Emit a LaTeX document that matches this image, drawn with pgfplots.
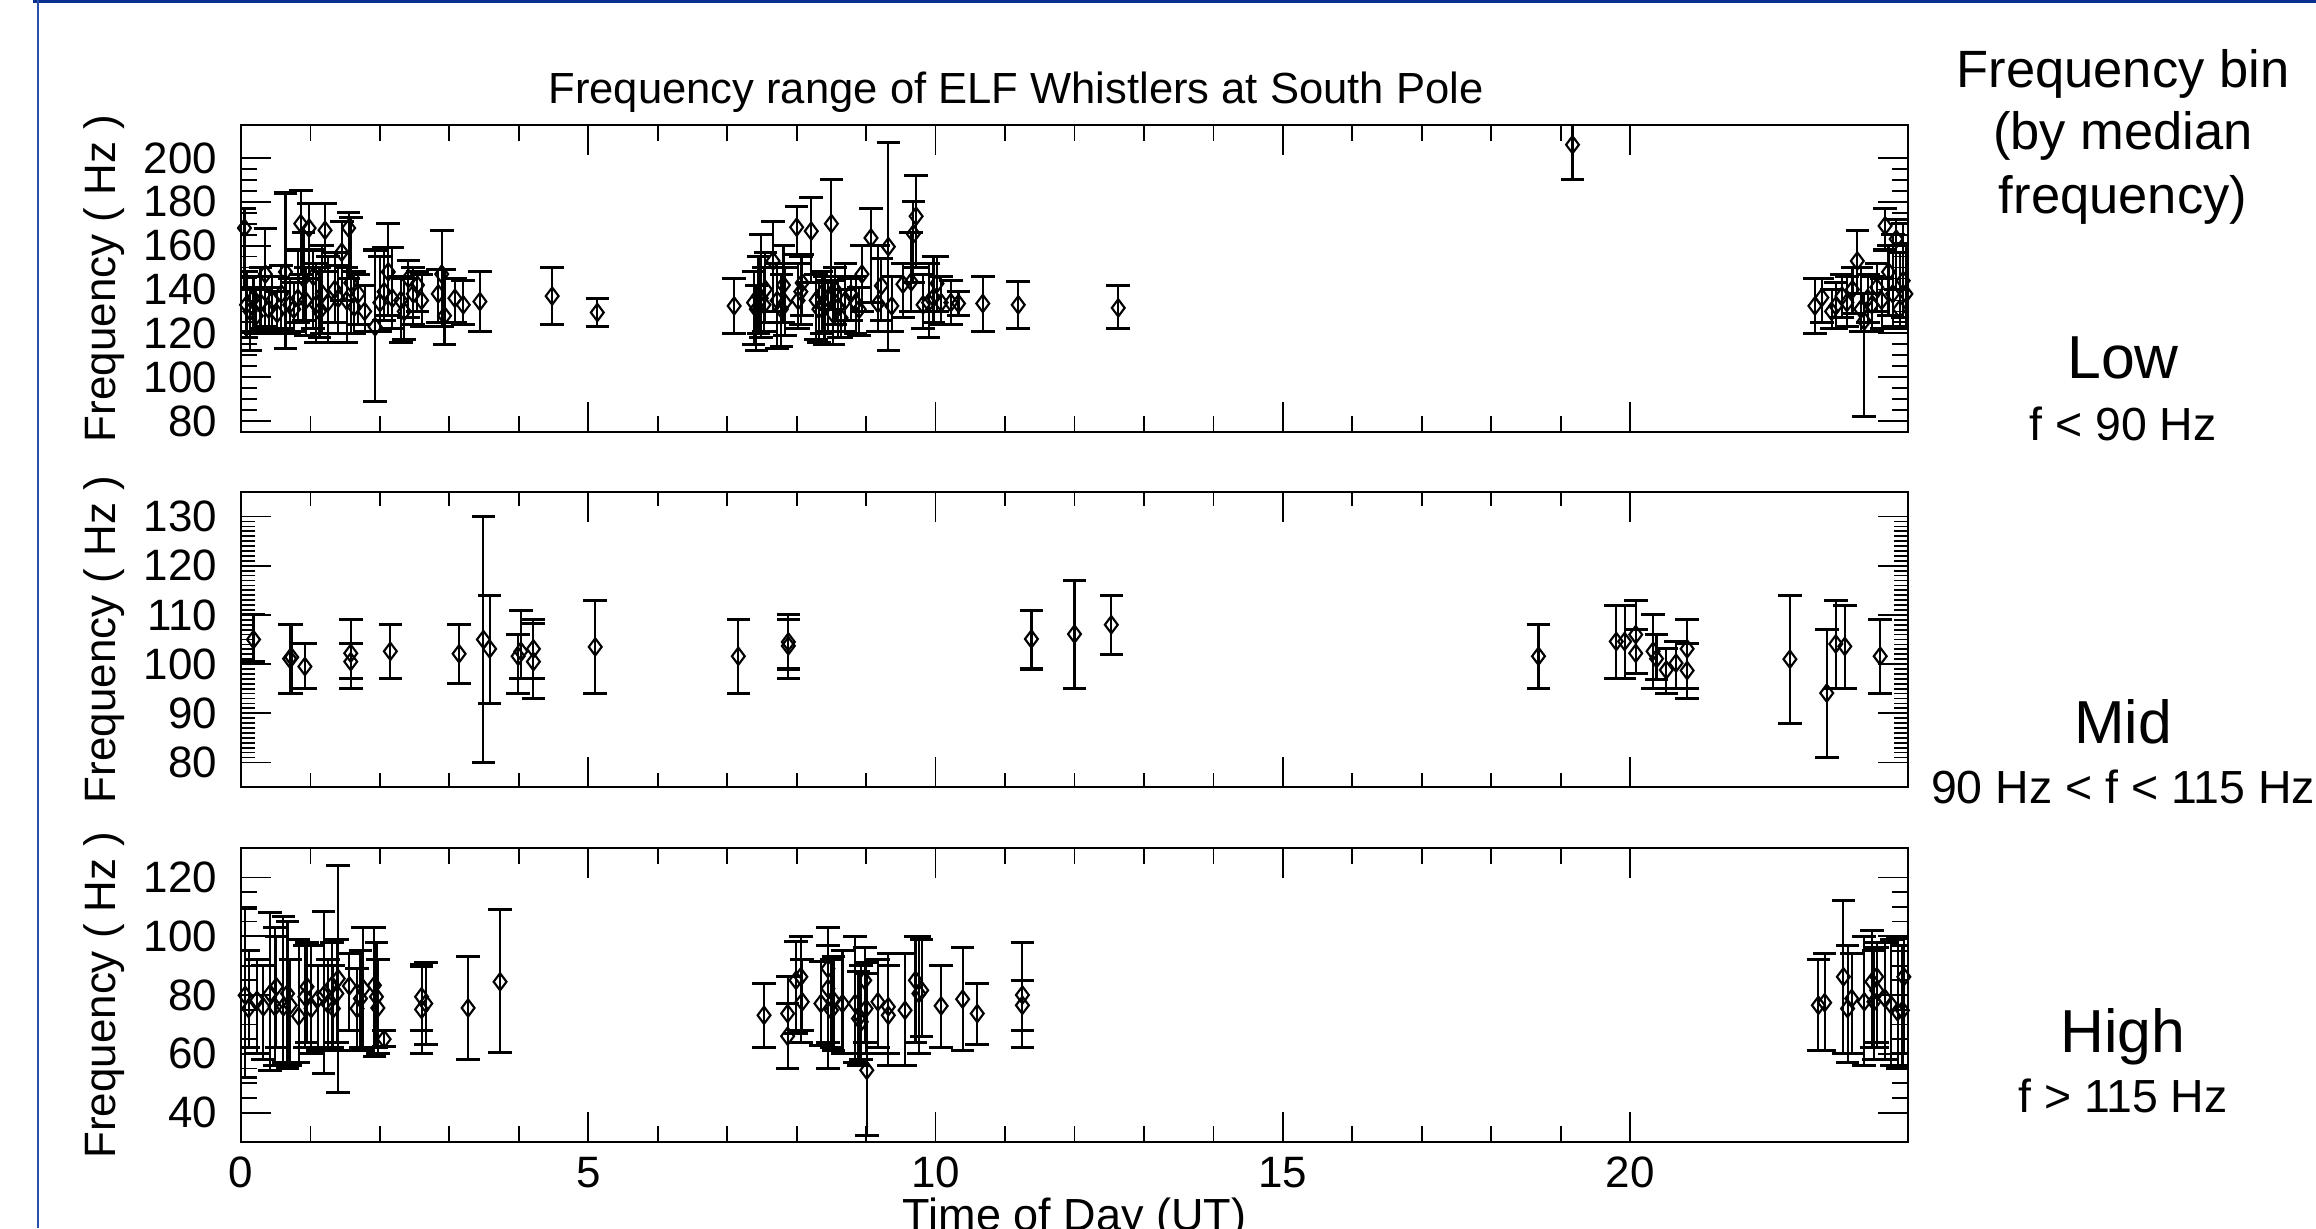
\documentclass[border=0pt]{standalone}
\usepackage{fontspec}
\setmainfont{Liberation Sans}
\usepackage{pgfplots}
\usepackage{pgfplotstable}
\pgfplotsset{compat=1.18}
\definecolor{framenavy}{RGB}{8,48,140}
\definecolor{frameblue}{RGB}{40,80,170}

% ---------- Panel 1 ----------
\pgfplotstableread{
x y lo hi
0.05 168 140 177
0.08 133 118 148
0.13 130 112 141
0.18 136 121 146
0.22 128 120 140
0.28 134 122 150
0.35 147 123 168
0.40 131 121 141
0.45 135 120 146
0.52 129 121 139
0.58 138 122 151
0.64 148 113 184
0.70 133 120 145
0.76 131 121 143
0.82 136 125 158
0.86 170 147 185
0.90 145 126 166
0.93 135 119 150
0.98 168 145 179
1.04 146 122 158
1.08 133 116 152
1.13 130 118 150
1.17 138 120 160
1.21 167 148 179
1.25 134 116 155
1.35 140 125 157
1.40 136 120 151
1.45 157 135 171
1.52 135 116 150
1.55 168 145 175
1.58 143 120 173
1.63 132 120 148
1.69 138 124 147
1.78 130 121 142
1.93 123 89 158
2.00 134 121 155
2.06 139 126 159
2.12 148 128 170
2.18 136 122 159
2.30 135 116 146
2.35 130 117 145
2.41 145 127 153
2.48 138 124 150
2.54 142 130 148
2.60 135 123 147
2.84 138 125 149
2.89 147 123 167
2.93 128 115 149
3.08 136 125 145
3.20 133 124 144
3.44 134.5 121 148
4.48 137 124 150
5.13 129.5 123 136
7.10 132.5 120 145
7.38 134 115 148
7.42 131 112 142
7.45 137 120 155
7.49 136 118 165
7.53 133 121 150
7.55 140 125 157
7.66 153 130 171
7.72 135 113 152
7.78 131 114 147
7.81 142 125 160
7.83 134 119 150
8.00 168.4 156 178
8.02 135 122 152
8.06 139 124 155
8.08 143 128 156
8.21 166.6 143 182
8.28 135 117 147
8.32 131 116 143
8.36 138 120 148
8.40 133 115 146
8.45 136 121 144
8.50 170 131 190
8.52 129 115 144
8.55 140 124 150
8.60 132 118 146
8.64 127 118 140
8.70 135 121 152
8.78 138 126 145
8.85 134 120 146
8.90 131 119 141
8.94 147 130 160
9.07 163.5 134 177
9.17 133.6 121 160
9.22 141.7 126 154
9.32 159.5 112 207
9.37 132.5 121 146
9.53 142.4 127 152
9.65 143.5 130 166
9.68 165.3 143 180
9.72 173.4 150 192
9.82 133 122 147
9.90 134 118 152
9.97 136.3 125 155
10.02 142.7 130 155
10.08 134 124 146
10.22 134 124 144
10.33 133.6 128 139
10.68 133.6 121 146
11.19 133 122 143.7
12.63 131.6 122 141.7
19.17 206 190 217
22.66 132.5 120 145
22.76 136.3 125 145
22.90 130 122 140
22.96 132.5 122 143
23.05 137 127 147
23.12 134 123 146
23.20 140 129 150
23.27 153 138 167
23.32 131 121 150
23.37 125.6 82 138
23.42 136 125 147
23.48 133 121 146
23.55 141 130 152
23.62 135 122 145
23.67 169 158 177
23.72 148 128 160
23.78 138 123 165
23.83 163 140 172
23.88 131 122 157
23.93 144 127 170
23.97 138 123 161
}\lowdata

% ---------- Panel 2 ----------
\pgfplotstableread{
x y lo hi
0.18 105 100.5 110
0.70 101.1 94.1 108
0.73 101.4 94.1 108
0.92 99.5 95 104.1
1.58 102.2 97 109
1.58 100.5 95 104.1
2.15 102.6 97 108
3.14 102.1 96.1 108
3.49 105 80 130
3.58 103.1 92 114
3.99 101.6 94.1 106
4.03 102.6 97 110.9
4.21 103.1 93.1 109
4.21 100.5 97 108.3
5.10 103.5 94.1 113
7.16 101.6 94.1 109
7.88 103.7 97 110
7.88 104.5 99 109
11.38 105.1 99 110.9
12.00 106.1 95 117.1
12.53 108.0 102 114
18.68 101.6 95 108
19.80 104.6 97 112
19.92 104.6 97 112
20.08 106.0 98 113
20.08 102.2 98 107
20.33 102.6 95 110
20.38 101.1 96.9 106
20.52 98.8 94.1 103.1
20.66 100.2 95 104.6
20.82 98.7 93.1 104.1
20.82 103.1 95 109
22.30 101.0 88 114
22.83 94.1 81.1 107
22.96 104.1 95 113
23.09 103.6 95 112
23.60 101.6 94.1 109
}\middata

% ---------- Panel 3 ----------
\pgfplotstableread{
x y lo hi
0.06 79.9 52.1 109.4
0.11 75.4 62 95
0.23 78.2 60 92
0.32 76 58 90
0.42 80.5 54.4 108
0.49 76 56 103
0.51 82.8 62 100
0.61 76 57.2 106.8
0.67 80.5 55 105
0.71 76.5 56 92
0.83 72.8 57.2 98.9
0.92 79.4 62 97
0.95 82.8 64 98
1.01 75.4 60 97
1.11 78.8 61 90
1.19 79.9 53.3 108.3
1.25 77 62 92
1.31 83.3 62 98
1.33 75.4 61 90
1.38 80.5 64 99
1.40 85.6 47.0 124.2
1.56 83.1 68 94
1.67 75.4 61.2 89
1.72 78.8 62 95
1.76 82.2 61 103
1.92 83.3 59 103
1.95 79.4 62 98
1.97 75.6 60 92.2
2.06 65 62.4 68
2.60 79.4 60.1 90.5
2.60 75.1 68 89.8
2.66 77.1 63.1 91
3.27 75.6 58 93
3.73 84.5 60.3 109.1
7.53 73.1 62.1 83.9
7.87 73.7 55 86.2
7.87 66 55 77.1
7.99 85 67 98.1
8.06 86.2 64 100
8.08 77.7 68 92
8.35 77.1 62.9 91.3
8.45 89 55 103
8.45 82.2 64 97
8.50 74.8 62 92
8.53 78.2 61 93
8.66 77.1 60 95
8.84 77.1 57 100
8.89 72 56 88
8.93 70.9 58 90
8.98 85 64 96
9.00 75.4 60 91
9.01 54.4 32.3 87.3
9.17 77.7 62 92
9.32 73.1 56 90
9.32 76 60 94
9.56 74.8 56.1 94.1
9.71 85 64 100
9.76 80.5 60 100
9.80 81.6 66 99
10.08 76.3 62.1 89.9
10.39 78.6 61.2 96
10.60 73.7 63.1 83.9
11.25 80 62.1 97.8
11.25 76.5 68 85
22.71 76.5 61.2 92.2
22.80 77.4 61.2 94.1
23.07 86.2 60.1 112.1
23.13 75.4 57.2 97
23.19 78.8 60 94
23.37 77.7 56.1 100
23.48 84.5 62 102
23.51 77.7 58 95
23.55 86.2 64 98
23.55 81.6 62 96
23.67 78.8 58 98
23.76 76.5 56 99
23.85 74.3 55 99.2
23.92 74.8 56 97
23.94 86.2 60 100
}\highdata

\pgfplotsset{
  panel/.style={
    scale only axis, width=466.76pt, anchor=south west,
    xmin=0, xmax=24,
    xtick={0,5,10,15,20}, minor x tick num=4,
    tick align=inside, major tick length=8.4pt, minor tick length=4.4pt,
    axis line style={line width=0.75pt},
    every tick/.style={black, line width=0.5pt},
    /pgf/number format/assume math mode=true,
    tick label style={font=\fontsize{12.3}{14}\selectfont},
    yticklabel style={inner sep=0pt, xshift=-6.5pt},
    xticklabel style={inner sep=0pt, yshift=-4pt},
    ylabel={Frequency ( Hz )},
    ylabel style={font=\fontsize{12.3}{14}\selectfont, at={(axis description cs:-0.082,0.5)}, anchor=center},
  },
  whist/.style={only marks, black, mark=diamond, mark size=2.4pt,
    mark options={line width=0.6pt, fill=none, solid},
    error bars/.cd, y dir=both, y explicit,
    error bar style={line width=0.6pt, black},
    error mark options={rotate=90, mark size=3.3pt, line width=0.85pt, black}},
}

\newcommand{\plotdata}[1]{\addplot[whist] table[x=x, y=y,
  y error plus expr=\thisrow{hi}-\thisrow{y},
  y error minus expr=\thisrow{y}-\thisrow{lo}] {#1};}

\begin{document}
\begin{tikzpicture}
\useasboundingbox (0,0) rectangle (648.48pt,343.84pt);
\fill[white] (0,0) rectangle (648.48pt,343.84pt);
\fill[framenavy] (9.24pt,342.9pt) rectangle (648.48pt,343.84pt);
\draw[frameblue, line width=0.45pt] (10.64pt,0) -- (10.64pt,343.84pt);

% Panel 1
\begin{axis}[panel, at={(67.48pt,222.88pt)}, height=85.96pt,
  ymin=75, ymax=215, ytick={80,100,...,200}, minor y tick num=3,
  xticklabels={}]
\plotdata{\lowdata}
\end{axis}

% Panel 2
\begin{axis}[panel, at={(67.48pt,123.48pt)}, height=82.6pt,
  ymin=75, ymax=135, ytick={80,90,...,130}, minor y tick num=9,
  minor tick length=4pt, xticklabels={}]
\plotdata{\middata}
\end{axis}

% Panel 3
\begin{axis}[panel, at={(67.48pt,24.08pt)}, height=82.32pt,
  ymin=30, ymax=130, ytick={40,60,...,120}, minor y tick num=3,
  xlabel={Time of Day (UT)},
  xlabel style={font=\fontsize{12.6}{14}\selectfont, at={(axis description cs:0.5,0)}, anchor=base, yshift=-24.8pt}]
\plotdata{\highdata}
\end{axis}

% Title
\node[font=\fontsize{12.2}{14}\selectfont, anchor=base, inner sep=0pt] at (284.48pt,314.9pt) {Frequency range of ELF Whistlers at South Pole};

% Right-hand annotations
\begin{scope}[every node/.style={anchor=base, inner sep=0pt}]
\node[font=\fontsize{14.7}{17}\selectfont] at (594.44pt,319.4pt) {Frequency bin};
\node[font=\fontsize{14.7}{17}\selectfont] at (594.44pt,302.0pt) {(by median};
\node[font=\fontsize{14.7}{17}\selectfont] at (594.44pt,284.0pt) {frequency)};
\node[font=\fontsize{17}{20}\selectfont] at (594.44pt,238pt) {Low};
\node[font=\fontsize{13}{15}\selectfont] at (594.44pt,220.64pt) {f < 90 Hz};
\node[font=\fontsize{17}{20}\selectfont] at (594.44pt,135.8pt) {Mid};
\node[font=\fontsize{13}{15}\selectfont] at (594.44pt,119pt) {90 Hz < f < 115 Hz};
\node[font=\fontsize{17}{20}\selectfont] at (594.44pt,49.28pt) {High};
\node[font=\fontsize{13}{15}\selectfont] at (594.44pt,32.48pt) {f > 115 Hz};
\end{scope}
\end{tikzpicture}
\end{document}
